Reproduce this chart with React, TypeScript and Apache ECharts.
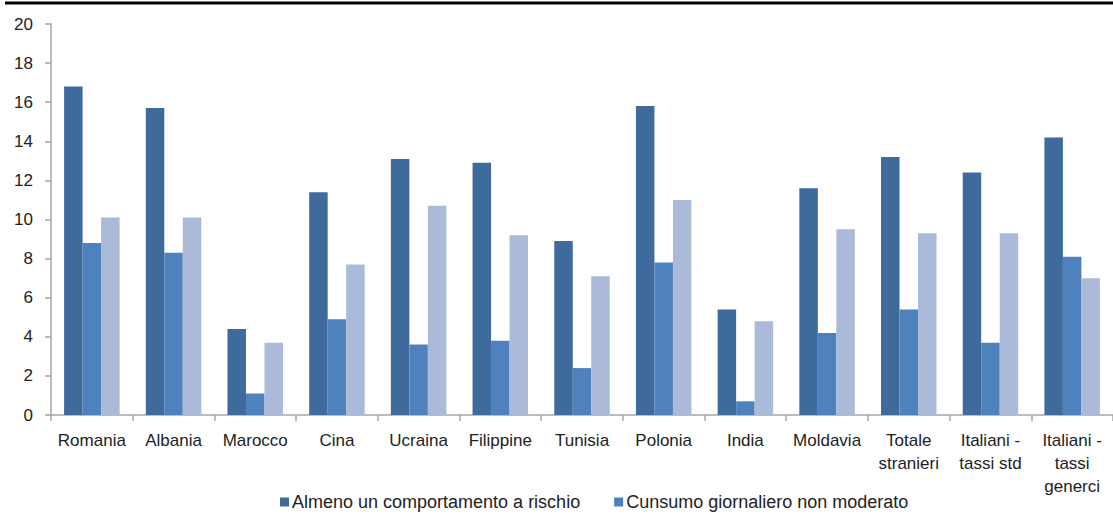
import React, { useEffect, useRef } from "react";
import * as echarts from "echarts";

const categories = [
  "Romania",
  "Albania",
  "Marocco",
  "Cina",
  "Ucraina",
  "Filippine",
  "Tunisia",
  "Polonia",
  "India",
  "Moldavia",
  "Totale\nstranieri",
  "Italiani -\ntassi std",
  "Italiani -\ntassi\ngenerci",
];

const almenoUnComportamento = [16.8, 15.7, 4.4, 11.4, 13.1, 12.9, 8.9, 15.8, 5.4, 11.6, 13.2, 12.4, 14.2];
const consumoGiornaliero = [8.8, 8.3, 1.1, 4.9, 3.6, 3.8, 2.4, 7.8, 0.7, 4.2, 5.4, 3.7, 8.1];
const bingeDrinking = [10.1, 10.1, 3.7, 7.7, 10.7, 9.2, 7.1, 11.0, 4.8, 9.5, 9.3, 9.3, 7.0];

const seriesNames = [
  "Almeno un comportamento a rischio",
  "Cunsumo giornaliero non moderato",
  "Binge drinking",
];

const FONT = "'Liberation Sans', Arial, sans-serif";

export default function App() {
  const ref = useRef<HTMLDivElement>(null);

  useEffect(() => {
    if (!ref.current) return;
    const chart = echarts.init(ref.current, undefined, { renderer: "svg" });
    const barStyle = (color: string) => ({ color });
    chart.setOption({
      animation: false,
      backgroundColor: "#ffffff",
      textStyle: { fontFamily: FONT },
      grid: { left: 51, right: 0, top: 24, bottom: 104, containLabel: false },
      legend: {
        data: [seriesNames[0], seriesNames[1]],
        left: 275,
        top: 488,
        itemWidth: 9,
        itemHeight: 9,
        itemGap: 34,
        icon: "rect",
        textStyle: { fontFamily: FONT, fontSize: 18, color: "#222", padding: [0, 0, 0, -2] },
      },
      xAxis: {
        type: "category",
        data: categories,
        axisLine: { lineStyle: { color: "#a6a6a6", width: 1.5 } },
        axisTick: { show: true, length: 6, alignWithLabel: false, lineStyle: { color: "#a6a6a6", width: 1.5 } },
        axisLabel: {
          interval: 0,
          fontFamily: FONT,
          fontSize: 17,
          color: "#222",
          margin: 14,
          lineHeight: 23,
        },
      },
      yAxis: {
        type: "value",
        min: 0,
        max: 20,
        interval: 2,
        axisLine: { show: true, lineStyle: { color: "#a6a6a6", width: 1.5 } },
        axisTick: { show: true, length: 6, lineStyle: { color: "#a6a6a6", width: 1.5 } },
        splitLine: { show: false },
        axisLabel: { fontFamily: FONT, fontSize: 17, color: "#222", margin: 18 },
      },
      series: [
        {
          name: seriesNames[0],
          type: "bar",
          data: almenoUnComportamento,
          barWidth: 18.5,
          barGap: "0%",
          itemStyle: barStyle("#3f6a9c"),
        },
        {
          name: seriesNames[1],
          type: "bar",
          data: consumoGiornaliero,
          barWidth: 18.5,
          barGap: "0%",
          itemStyle: barStyle("#4f81bd"),
        },
        {
          name: seriesNames[2],
          type: "bar",
          data: bingeDrinking,
          barWidth: 18.5,
          barGap: "0%",
          itemStyle: barStyle("#abbad8"),
        },
      ],
      graphic: [
        {
          type: "line",
          shape: { x1: 5, y1: 3, x2: 1113, y2: 3 },
          style: { stroke: "#000", lineWidth: 3 },
        },
      ],
    });
    return () => chart.dispose();
  }, []);

  return (
    <div
      ref={ref}
      style={{ position: "absolute", left: 0, top: 0, width: 1113, height: 519 }}
    />
  );
}
